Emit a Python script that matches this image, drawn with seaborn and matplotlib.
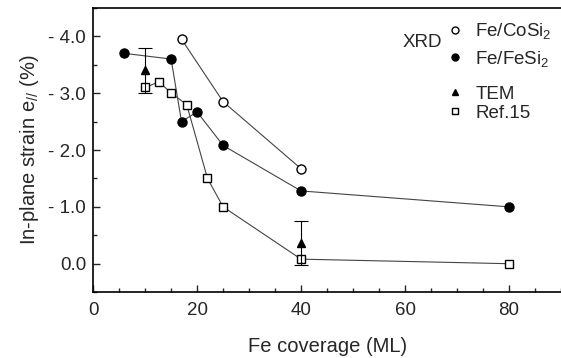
import matplotlib
matplotlib.use("Agg")
import matplotlib.pyplot as plt
import seaborn as sns
import pandas as pd
from matplotlib.ticker import MultipleLocator, FuncFormatter
from matplotlib.lines import Line2D

sns.set_theme(style="ticks")
plt.rcParams['font.family'] = ['Liberation Sans', 'DejaVu Sans']
plt.rcParams['mathtext.fontset'] = 'custom'
plt.rcParams['mathtext.rm'] = 'Liberation Sans'
plt.rcParams['mathtext.it'] = 'Liberation Sans:italic'

# Fe/CoSi2 (XRD)
co_x = [17, 25, 40]
co_y = [-3.95, -2.85, -1.67]
# Fe/FeSi2 (XRD)
fe_x = [6, 15, 17, 20, 25, 40, 80]
fe_y = [-3.7, -3.6, -2.5, -2.67, -2.08, -1.28, -1.0]
# TEM
tem_x = [10, 40]
tem_y = [-3.4, -0.36]
tem_err = [0.4, 0.39]
# Ref.15
ref_x = [10, 12.7, 15, 18, 22, 25, 40, 80]
ref_y = [-3.1, -3.2, -3.0, -2.8, -1.5, -1.0, -0.08, 0.0]

fig = plt.figure(figsize=(5.61, 3.58), dpi=100)
ax = fig.add_axes([0.166, 0.184, 0.834, 0.794])

line_kw = dict(color="#444444", linewidth=0.8, markeredgecolor="black",
               markeredgewidth=1.0, sort=False, ax=ax, legend=False)
sns.lineplot(x=co_x, y=co_y, marker="o", markersize=6.5, markerfacecolor="white", **line_kw)
sns.lineplot(x=fe_x, y=fe_y, marker="o", markersize=6.5, markerfacecolor="black", **line_kw)
sns.lineplot(x=ref_x, y=ref_y, marker="s", markersize=5.5, markerfacecolor="white", **line_kw)
ax.errorbar(tem_x, tem_y, yerr=tem_err, fmt="^", color="black", markersize=6,
            elinewidth=0.8, capsize=5, capthick=0.8, zorder=5)

ax.set_xlim(0, 90)
ax.set_ylim(0.5, -4.5)
ax.xaxis.set_major_locator(MultipleLocator(20))
ax.xaxis.set_minor_locator(MultipleLocator(5))
ax.yaxis.set_major_locator(MultipleLocator(1))
ax.yaxis.set_minor_locator(MultipleLocator(0.5))
ax.yaxis.set_major_formatter(FuncFormatter(lambda v, p: f"- {abs(v):.1f}" if v < -0.01 else f"{abs(v):.1f}"))
ax.tick_params(which="both", direction="in", top=False, right=False, labelsize=13.5, width=1.0)
ax.tick_params(which="major", length=5)
ax.tick_params(which="minor", length=3)
ax.tick_params(axis="x", pad=7)
ax.tick_params(axis="y", pad=5)
ax.spines["right"].set_visible(False)
for s in ["left", "bottom", "top"]:
    ax.spines[s].set_linewidth(1.2)
    ax.spines[s].set_color("black")

ax.set_xlabel("Fe coverage (ML)", fontsize=14.5, labelpad=13)
ax.set_ylabel("In-plane strain e$_{//}$ (%)", fontsize=14.5, labelpad=5)

h1 = [Line2D([], [], marker="o", ls="", color="black", mfc="white", markersize=5),
      Line2D([], [], marker="o", ls="", color="black", mfc="black", markersize=5)]
leg1 = ax.legend(h1, ["Fe/CoSi$_2$", "Fe/FeSi$_2$"], loc="upper left",
                 bbox_to_anchor=(0.729, 1.005), frameon=False, fontsize=13.5,
                 handlelength=0.6, handletextpad=0.8, labelspacing=0.4, borderpad=0.3)
ax.add_artist(leg1)
h2 = [Line2D([], [], marker="^", ls="", color="black", markersize=5),
      Line2D([], [], marker="s", ls="", color="black", mfc="white", markersize=5)]
ax.legend(h2, ["TEM", "Ref.15"], loc="upper left", bbox_to_anchor=(0.729, 0.78),
          frameon=False, fontsize=13.5, handlelength=0.6, handletextpad=0.8,
          labelspacing=0.1, borderpad=0.3)
ax.text(0.662, 0.877, "XRD", transform=ax.transAxes, fontsize=13.5, va="center")

fig.savefig("out.png", dpi=100)
